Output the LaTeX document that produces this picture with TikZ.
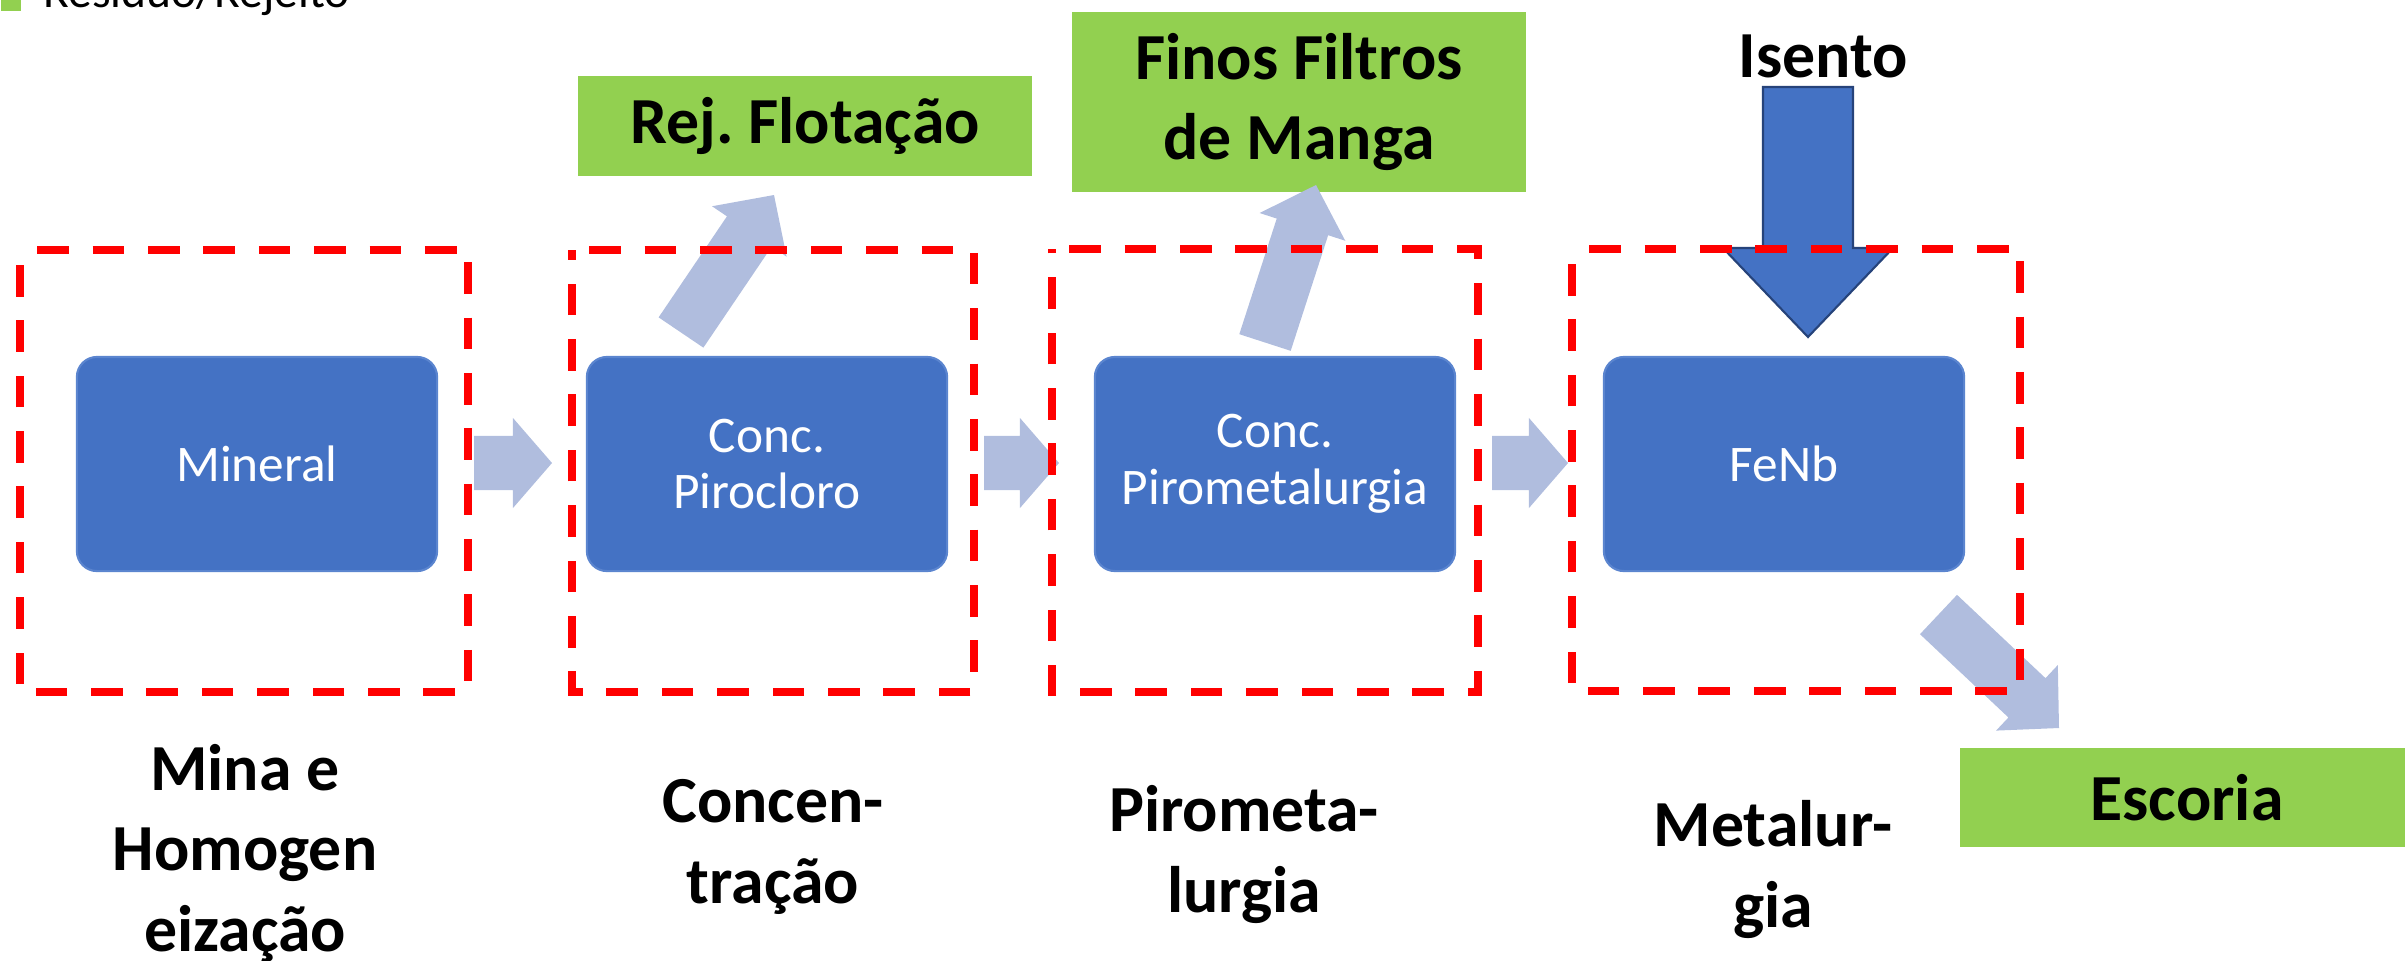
\documentclass[tikz,border=0pt]{standalone}
\usepackage{fontspec}
\setmainfont{Carlito}
\usetikzlibrary{calc}
\frenchspacing
\definecolor{boxblue}{HTML}{4472C4}
\definecolor{boxedge}{HTML}{5B85CF}
\definecolor{lightarr}{RGB}{176,189,222}
\definecolor{rejgreen}{HTML}{92D050}
\definecolor{navyedge}{HTML}{26437A}
% #1 style, #2 tail, #3 tip, #4 shaft half width, #5 head half width, #6 head length
\newcommand{\blkarrow}[6]{%
  \coordinate (bab) at ($(#3)!#6!(#2)$);
  \path[#1] ($(#2)!#4!90:(#3)$) -- ($(bab)!#4!90:(#3)$) -- ($(bab)!#5!90:(#3)$)
    -- (#3) -- ($(bab)!#5!-90:(#3)$) -- ($(bab)!#4!-90:(#3)$) -- ($(#2)!#4!-90:(#3)$) -- cycle;
}
\begin{document}
\begin{tikzpicture}[x=0.01cm,y=-0.01cm,
  proc/.style={rectangle, rounded corners=0.2cm, fill=boxblue, draw=boxedge, line width=0.6pt,
    minimum width=3.6cm, minimum height=2.14cm, inner sep=0, text=white, align=center,
    font=\fontsize{14.6}{16.1}\selectfont},
  stage/.style={rectangle, inner sep=0, outer sep=0},
  stageline/.style={draw=red, line width=2.25pt, dash pattern=on 9pt off 6.75pt, dash phase=10.8pt},
  waste/.style={rectangle, fill=rejgreen, inner sep=0, minimum width=4.54cm, align=center,
    font=\bfseries\fontsize{18.7}{22.8}\selectfont},
  lbl/.style={align=center, inner sep=0, font=\bfseries\fontsize{18.7}{22.8}\selectfont},
  flow/.style={fill=lightarr},
  feed/.style={fill=boxblue, draw=navyedge, line width=0.6pt},
]
\useasboundingbox (0,0) rectangle (2405,960);
\clip (0,0) rectangle (2405,960);

% legend
\node[fill=rejgreen, anchor=south west, minimum width=0.2cm, minimum height=0.32cm, inner sep=0] (legsq) at (0,12) {};
\node[anchor=base west, inner sep=0, font=\fontsize{13.5}{16}\selectfont] (legtx) at (43,7) {Resíduo/Rejeito};

% waste boxes
\node[waste, minimum height=1.0cm] (rej) at (805,126) {Rej. Flotação};
\node[waste, minimum height=1.8cm] (fin) at (1299,102) {Finos Filtros\\de Manga};
\node[waste, minimum height=0.99cm] (esc) at (2187,797.5) {Escoria};

% process boxes
\node[proc] (min) at (257,464) {Mineral};
\node[proc] (pir) at (767,464) {Conc.\\Pirocloro};
\node[proc] (pmt) at (1275,464) {Conc.\\Pirometalurgia};
\node[proc] (fenb) at (1784,464) {FeNb};

% stage frames (named)
\node[stage, minimum width=4.48cm, minimum height=4.42cm] (s1) at (244,471) {};
\node[stage, minimum width=4.02cm, minimum height=4.42cm] (s2) at (773,471) {};
\node[stage, minimum width=4.26cm, minimum height=4.43cm] (s3) at (1265,470.5) {};
\node[stage, minimum width=4.48cm, minimum height=4.42cm] (s4) at (1796,470) {};

% flow arrows
\coordinate (f1t) at (474,463);  \coordinate (f1h) at (552,463);
\coordinate (f2t) at (984,463);  \coordinate (f2h) at (1059,463);
\coordinate (f3t) at (1492,463); \coordinate (f3h) at (1568,463);
\coordinate (frt) at (681,332.5); \coordinate (frh) at (774,195);
\coordinate (fft) at (1265,342.5); \coordinate (ffh) at (1316,185);
\coordinate (fet) at (1938.5,614.5); \coordinate (feh) at (2059,728);
\coordinate (ist) at (1808,87); \coordinate (ish) at (1808,337);
\blkarrow{flow}{f1t}{f1h}{0.27cm}{0.45cm}{0.39cm}
\blkarrow{flow}{f2t}{f2h}{0.27cm}{0.45cm}{0.39cm}
\blkarrow{flow}{f3t}{f3h}{0.27cm}{0.45cm}{0.39cm}
\blkarrow{flow}{frt}{frh}{0.27cm}{0.45cm}{0.44cm}
\blkarrow{flow}{fft}{ffh}{0.27cm}{0.45cm}{0.44cm}
\blkarrow{flow}{fet}{feh}{0.27cm}{0.45cm}{0.44cm}
\blkarrow{feed}{ist}{ish}{0.45cm}{0.85cm}{0.89cm}

% dashed stage frames
\foreach \s in {s1,s2,s3,s4}
  \draw[stageline] (\s.north west) -- (\s.north east) -- (\s.south east) -- (\s.south west) -- cycle;

% labels (base anchor = baseline of last line)
\node[lbl, anchor=base] (ise) at (1823,77) {Isento};
\node[lbl, anchor=base] (l1) at (245,951) {Mina e\\Homogen\\eização};
\node[lbl, anchor=base] (l2) at (773,903) {Concen-\\tração};
\node[lbl, anchor=base] (l3) at (1244,912) {Pirometa-\\lurgia};
\node[lbl, anchor=base] (l4) at (1773,927) {Metalur-\\gia};
\end{tikzpicture}
\end{document}
